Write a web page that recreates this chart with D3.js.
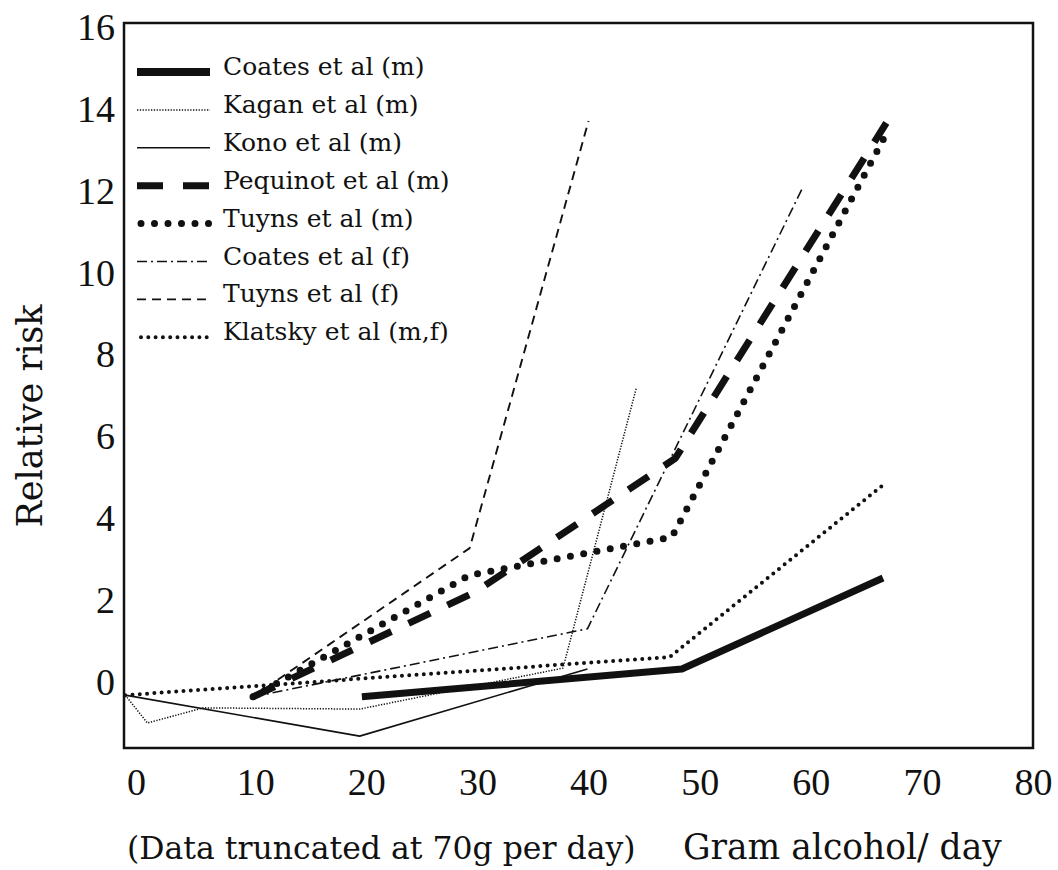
<!DOCTYPE html>
<html>
<head>
<meta charset="utf-8">
<script src="https://cdn.jsdelivr.net/npm/d3@7"></script>
<style>
  body { margin: 0; background: #fff; }
  svg { display: block; }
  .tick text { font-family: "Liberation Serif", serif; font-size: 38px; fill: #111; }
  .lbl { font-family: "DejaVu Serif", serif; fill: #111; }
</style>
</head>
<body>
<div class="layout"></div>
<script>
// values (x: g alcohol/day, y: relative risk)
var seriesNames = ["Coates et al (m)", "Kagan et al (m)", "Kono et al (m)", "Pequinot et al (m)",
                   "Tuyns et al (m)", "Coates et al (f)", "Tuyns et al (f)", "Klatsky et al (m,f)"];

var coatesM   = [[19.6, -0.35], [48.4, 0.33], [66.5, 2.55]];
var kaganM    = [[-1.7, -0.31], [0.3, -0.99], [5.3, -0.62], [19.4, -0.65], [37.7, 0.35], [44.3, 7.19]];
var konoM     = [[-1.7, -0.31], [19.4, -1.31], [39.9, 0.33]];
var pequinotM = [[9.8, -0.35], [29.8, 2.21], [47.8, 5.47], [66.8, 13.66]];
var tuynsM    = [[9.8, -0.35], [29.3, 2.62], [47.5, 3.55], [66.9, 13.45]];
var coatesF   = [[9.8, -0.35], [39.9, 1.31], [59.3, 12.1]];
var tuynsF    = [[9.8, -0.35], [29.3, 3.28], [40.0, 13.71]];
var klatsky   = [[-1.7, -0.31], [47.3, 0.62], [66.5, 4.82]];

var xTicks = [0, 10, 20, 30, 40, 50, 60, 70, 80];
var yTicks = [0, 2, 4, 6, 8, 10, 12, 14, 16];

var xTitleLeft = "(Data truncated at 70g per day)";
var xTitleRight = "Gram alcohol/ day";
var yTitle = "Relative risk";

var series = [coatesM, kaganM, konoM, pequinotM, tuynsM, coatesF, tuynsF, klatsky];

// line styles, one per series
var styles = [
        {w: 7,   dash: null,          cap: "butt"},
        {w: 1.5, dash: "1.3,1.5",     cap: "butt"},
        {w: 1.6, dash: null,          cap: "butt"},
        {w: 7,   dash: "24,19",       cap: "butt"},
        {w: 7,   dash: "0,13.5",      cap: "round"},
        {w: 1.6, dash: "10,4,2,4",    cap: "butt"},
        {w: 1.9, dash: "9,6",         cap: "butt"},
        {w: 4,   dash: "0,7.3",       cap: "round"}
];

var W = 1058, H = 870;
var frameL = 124, frameR = 1033, frameT = 23, frameB = 748;

var x = d3.scaleLinear().domain([-1.9, 80]).range([123, 1033]);
var y = d3.scaleLinear().domain([-1.6, 16.1]).range([frameB, frameT]);

var svg = d3.select(".layout").append("svg")
        .attr("width", W)
        .attr("height", H);

// frame
svg.append("rect")
        .attr("x", frameL).attr("y", frameT)
        .attr("width", frameR - frameL).attr("height", frameB - frameT)
        .attr("fill", "none")
        .attr("stroke", "#111")
        .attr("stroke-width", 2.5);

var xAxis = d3.axisBottom(x).tickValues(xTicks).tickSize(0).tickPadding(20);
var yAxis = d3.axisLeft(y).tickValues(yTicks).tickSize(0).tickPadding(9);

svg.append("g")
        .attr("class", "x axis")
        .attr("transform", "translate(0," + frameB + ")")
        .call(xAxis)
        .call(function(g) { g.select(".domain").remove(); })
        .call(function(g) {
                // the printed "0" sits a little left of its tick
                g.selectAll(".tick text").filter(function(d) { return d === 0; }).attr("dx", -8);
        });

svg.append("g")
        .attr("class", "y axis")
        .attr("transform", "translate(" + frameL + ",0)")
        .call(yAxis)
        .call(function(g) { g.select(".domain").remove(); });

var line = d3.line()
        .x(function(d) { return x(d[0]); })
        .y(function(d) { return y(d[1]); });

svg.append("g").attr("class", "lines")
        .selectAll("path")
        .data(series)
        .enter().append("path")
        .attr("d", line)
        .attr("fill", "none")
        .attr("stroke", "#111")
        .attr("stroke-linejoin", "round")
        .attr("stroke-width", function(d, i) { return styles[i].w; })
        .attr("stroke-linecap", function(d, i) { return styles[i].cap; })
        .attr("stroke-dasharray", function(d, i) { return styles[i].dash; });

// legend
var legend = svg.append("g").attr("class", "legend")
        .selectAll("g")
        .data(seriesNames)
        .enter().append("g")
        .attr("transform", function(d, i) { return "translate(137," + (72 + i * 37.9) + ")"; });

legend.append("line")
        .attr("x1", function(d, i) { return styles[i].cap === "round" ? 4 : 0; })
        .attr("x2", 73)
        .attr("stroke", "#111")
        .attr("stroke-width", function(d, i) { return i === 0 ? 8 : styles[i].w; })
        .attr("stroke-linecap", function(d, i) { return styles[i].cap; })
        .attr("stroke-dasharray", function(d, i) { return i === 3 ? "26,20" : styles[i].dash; });

legend.append("text")
        .attr("class", "lbl")
        .attr("x", 86)
        .attr("y", 3)
        .style("font-size", "25px")
        .text(function(d) { return d; });

// axis titles
svg.append("text")
        .attr("class", "lbl")
        .attr("transform", "translate(42,416) rotate(-90)")
        .attr("text-anchor", "middle")
        .style("font-size", "35px")
        .text(yTitle);

svg.append("text")
        .attr("class", "lbl")
        .attr("x", 127)
        .attr("y", 859)
        .style("font-size", "31.5px")
        .text(xTitleLeft);

svg.append("text")
        .attr("class", "lbl")
        .attr("x", 683)
        .attr("y", 859)
        .style("font-size", "34.5px")
        .text(xTitleRight);
</script>
</body>
</html>
